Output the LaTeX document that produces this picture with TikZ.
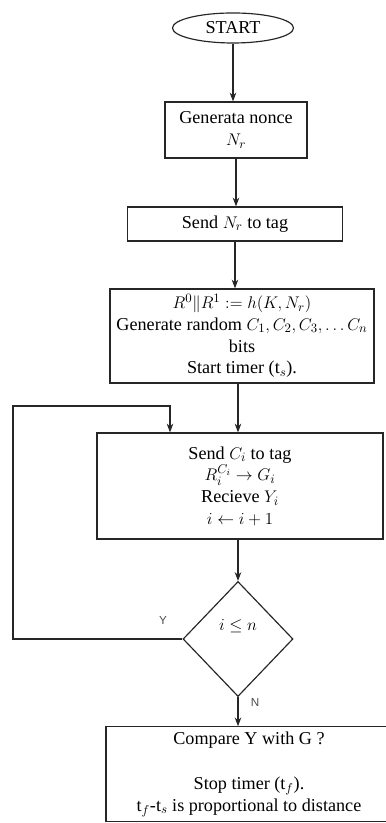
\documentclass[tikz,border=0pt]{standalone}
\usepackage{fontspec}
\setmainfont{Liberation Serif}
\newfontfamily\yesnofont{Liberation Sans}
\usetikzlibrary{arrows.meta,shapes.geometric}

\begin{document}
\begin{tikzpicture}[>=Stealth,
    every node/.style={font=\fontsize{15.5}{18.5}\selectfont},
    box/.style={draw=black!85,line width=1pt,align=center,inner sep=0pt},
    flow/.style={->,draw=black!85,line width=1pt},
    yesno/.style={font=\yesnofont\fontsize{10}{12}\selectfont,black!70}]
\useasboundingbox (0,0) rectangle (11.55,24.69);

% === Setup: nonce and keys ===
\node[box,ellipse,minimum width=3.63cm,minimum height=0.9cm] (start) at (6.99,23.85) {START};
\node[box,minimum width=4.26cm,minimum height=1.68cm] (nonce) at (7.08,20.79) {Generata nonce\\$N_r$};
\node[box,minimum width=6.45cm,minimum height=1.02cm] (send) at (7.05,17.97) {Send $N_r$ to tag};
\node[box,minimum width=7.92cm,minimum height=2.82cm] (hashbits) at (7.26,14.61)
    {$R^0\|R^1 := h(K,N_r)$\\Generate random $C_1, C_2, C_3, \ldots C_n$\\bits\\Start timer (t$_s$).};

% === Challenge loop ===
\node[box,minimum width=8.58cm,minimum height=3.18cm] (challenge) at (7.2,10.11)
    {Send $C_i$ to tag\\$R_i^{C_i} \rightarrow G_i$\\Recieve $Y_i$\\$i \leftarrow i + 1$};
\node[box,diamond,minimum width=3.3cm,minimum height=3.45cm] (check) at (7.14,5.52) {$i \leq n$\\[6pt]};
\node[box,minimum width=8.58cm,minimum height=2.85cm] (compare) at (7.47,1.46)
    {Compare Y with G ?\\[20pt]Stop timer (t$_f$).\\t$_f$-t$_s$ is proportional to distance};

\node[yesno] (yes) at (4.89,6.09) {Y};
\node[yesno] (no) at (7.65,3.63) {N};

% === Connectors ===
\draw[flow] (start) -- (start |- nonce.north);
\draw[flow] (nonce) -- (nonce |- send.north);
\draw[flow] (send) -- (send |- hashbits.north);
\draw[flow] (hashbits.south -| check) -- (challenge.north -| check);
\draw[flow] (challenge.south -| check) -- (check.north);
\draw[flow] (check.south) -- (check.south |- compare.north);

\coordinate (loopcorner) at (0.39,12.51);
\coordinate (loopentry) at (5.1,12.51);
\draw[flow] (check.west) -| (loopcorner) -- (loopentry) -- (loopentry |- challenge.north);
\end{tikzpicture}
\end{document}
